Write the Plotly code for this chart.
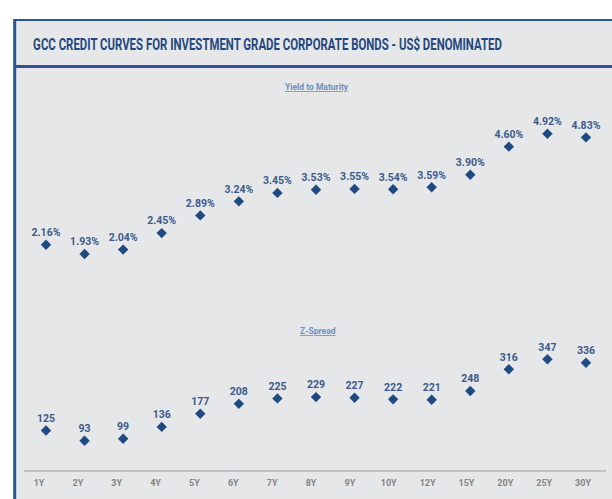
import plotly.graph_objects as go

# ---- data ----
tenors = ["1Y", "2Y", "3Y", "4Y", "5Y", "6Y", "7Y", "8Y", "9Y", "10Y", "12Y", "15Y", "20Y", "25Y", "30Y"]
ytm = [2.16, 1.93, 2.04, 2.45, 2.89, 3.24, 3.45, 3.53, 3.55, 3.54, 3.59, 3.90, 4.60, 4.92, 4.83]
zspread = [125, 93, 99, 136, 177, 208, 225, 229, 227, 222, 221, 248, 316, 347, 336]

title_text = "GCC CREDIT CURVES FOR INVESTMENT GRADE CORPORATE BONDS - US$ DENOMINATED"
sub1 = "Yield to Maturity"
sub2 = "Z-Spread"

# ---- layout helpers (pixel geometry) ----
W, H = 612, 499
def px(x):
    return x / W
def py(y):
    return 1 - y / H

FONT = "Roboto, Liberation Sans, sans-serif"
BLUE = "#2b5591"
MARK = "#1f4a82"
LBL = "#3b5b8b"
BG = "#e6e7e9"

fig = go.Figure()

# invisible anchor trace so the tick-label axis is drawn
fig.add_trace(go.Scatter(
    x=tenors, y=zspread, xaxis="x", yaxis="y2", mode="markers",
    marker=dict(size=1, opacity=0), showlegend=False, hoverinfo="skip",
))

fig.add_trace(go.Scatter(
    x=tenors, y=ytm, xaxis="x2", yaxis="y",
    mode="markers+text",
    marker=dict(symbol="diamond", size=8, color=MARK),
    text=[f"{v:.2f}%" for v in ytm],
    textposition="top center",
    textfont=dict(family=FONT, size=10.5, color=LBL, weight="bold"),
    cliponaxis=False, showlegend=False, hoverinfo="skip",
))
fig.add_trace(go.Scatter(
    x=tenors, y=zspread, xaxis="x2", yaxis="y2",
    mode="markers+text",
    marker=dict(symbol="diamond", size=8, color=MARK),
    text=[f"{v}" for v in zspread],
    textposition="top center",
    textfont=dict(family=FONT, size=10.5, color=LBL, weight="bold"),
    cliponaxis=False, showlegend=False, hoverinfo="skip",
))

# yield axis calibration: 1.93 -> 254px, 40.2 px per %
y_top, y_bot = 100, 280
ylo = 1.93 - (y_bot - 254) / 40.2
yhi = 1.93 + (254 - y_top) / 40.2
# spread axis calibration: 93 -> 440.7px, 0.3205 px per bp
s_top, s_bot = 320, 471
slo = 93 - (s_bot - 440.7) / 0.3205
shi = 93 + (440.7 - s_top) / 0.3205

xl, xr = 24, 606
lab0, labd = 39, 38.86
mk0, mkd = 46, 38.57

shapes = [
    dict(type="rect", xref="paper", yref="paper", x0=px(14), x1=px(620), y0=py(499), y1=py(20),
         fillcolor=BG, line=dict(width=0), layer="below"),
    dict(type="line", xref="paper", yref="paper", x0=px(14), x1=px(620), y0=py(20), y1=py(20),
         line=dict(color=BLUE, width=2), layer="below"),
    dict(type="line", xref="paper", yref="paper", x0=px(14), x1=px(620), y0=py(66.5), y1=py(66.5),
         line=dict(color=BLUE, width=3), layer="below"),
    dict(type="line", xref="paper", yref="paper", x0=px(14.7), x1=px(14.7), y0=py(19), y1=py(505),
         line=dict(color=BLUE, width=3), layer="below"),
    # category axis baseline
    dict(type="line", xref="paper", yref="paper", x0=px(xl), x1=px(xr), y0=py(s_bot), y1=py(s_bot),
         line=dict(color="#b3b4b6", width=1.5), layer="below"),
]

annotations = [
    dict(text=title_text, xref="paper", yref="paper", x=px(267.5), y=py(43.5), showarrow=False,
         xanchor="center", yanchor="middle",
         font=dict(family=FONT, size=17, color="#24487d", weight="bold")),
    dict(text=f"<u>{sub1}</u>", xref="paper", yref="paper", x=px(317), y=py(87), showarrow=False,
         xanchor="center", yanchor="middle",
         font=dict(family=FONT, size=8.5, color="#6f8fc0", weight="bold")),
    dict(text=f"<u>{sub2}</u>", xref="paper", yref="paper", x=px(318), y=py(331), showarrow=False,
         xanchor="center", yanchor="middle",
         font=dict(family=FONT, size=8.5, color="#6f8fc0", weight="bold")),
]

fig.update_layout(
    width=W, height=H,
    margin=dict(l=0, r=0, t=0, b=0),
    paper_bgcolor="white",
    plot_bgcolor="rgba(0,0,0,0)",
    shapes=shapes,
    annotations=annotations,
    xaxis=dict(
        type="category", domain=[px(xl), px(xr)], anchor="y2",
        range=[(xl - lab0) / labd, (xr - lab0) / labd],
        categoryorder="array", categoryarray=tenors,
        showline=False,
        showgrid=False, zeroline=False, ticks="", ticklabelstandoff=5,
        tickfont=dict(family=FONT, size=9, color="#858585", weight="bold"),
        fixedrange=True,
    ),
    xaxis2=dict(
        type="category", domain=[px(xl), px(xr)], anchor="y2", overlaying="x",
        range=[(xl - mk0) / mkd, (xr - mk0) / mkd],
        categoryorder="array", categoryarray=tenors,
        visible=False,
    ),
    yaxis=dict(domain=[py(y_bot), py(y_top)], range=[ylo, yhi], visible=False, anchor="x"),
    yaxis2=dict(domain=[py(s_bot), py(s_top)], range=[slo, shi], visible=False, anchor="x"),
)

post = """
document.body.style.margin='0';
document.body.style.overflow='hidden';
document.querySelectorAll('.annotation-text').forEach(function(el){
  if (el.textContent.indexOf('GCC') === 0) {
    var w = el.getBBox().width;
    var s = 469 / w;
    el.style.transformBox = 'fill-box';
    el.style.transformOrigin = 'center';
    el.style.transform = 'scaleX(' + s + ')';
  }
});
"""

fig.write_html("out.html", config={"displayModeBar": False}, post_script=post)
